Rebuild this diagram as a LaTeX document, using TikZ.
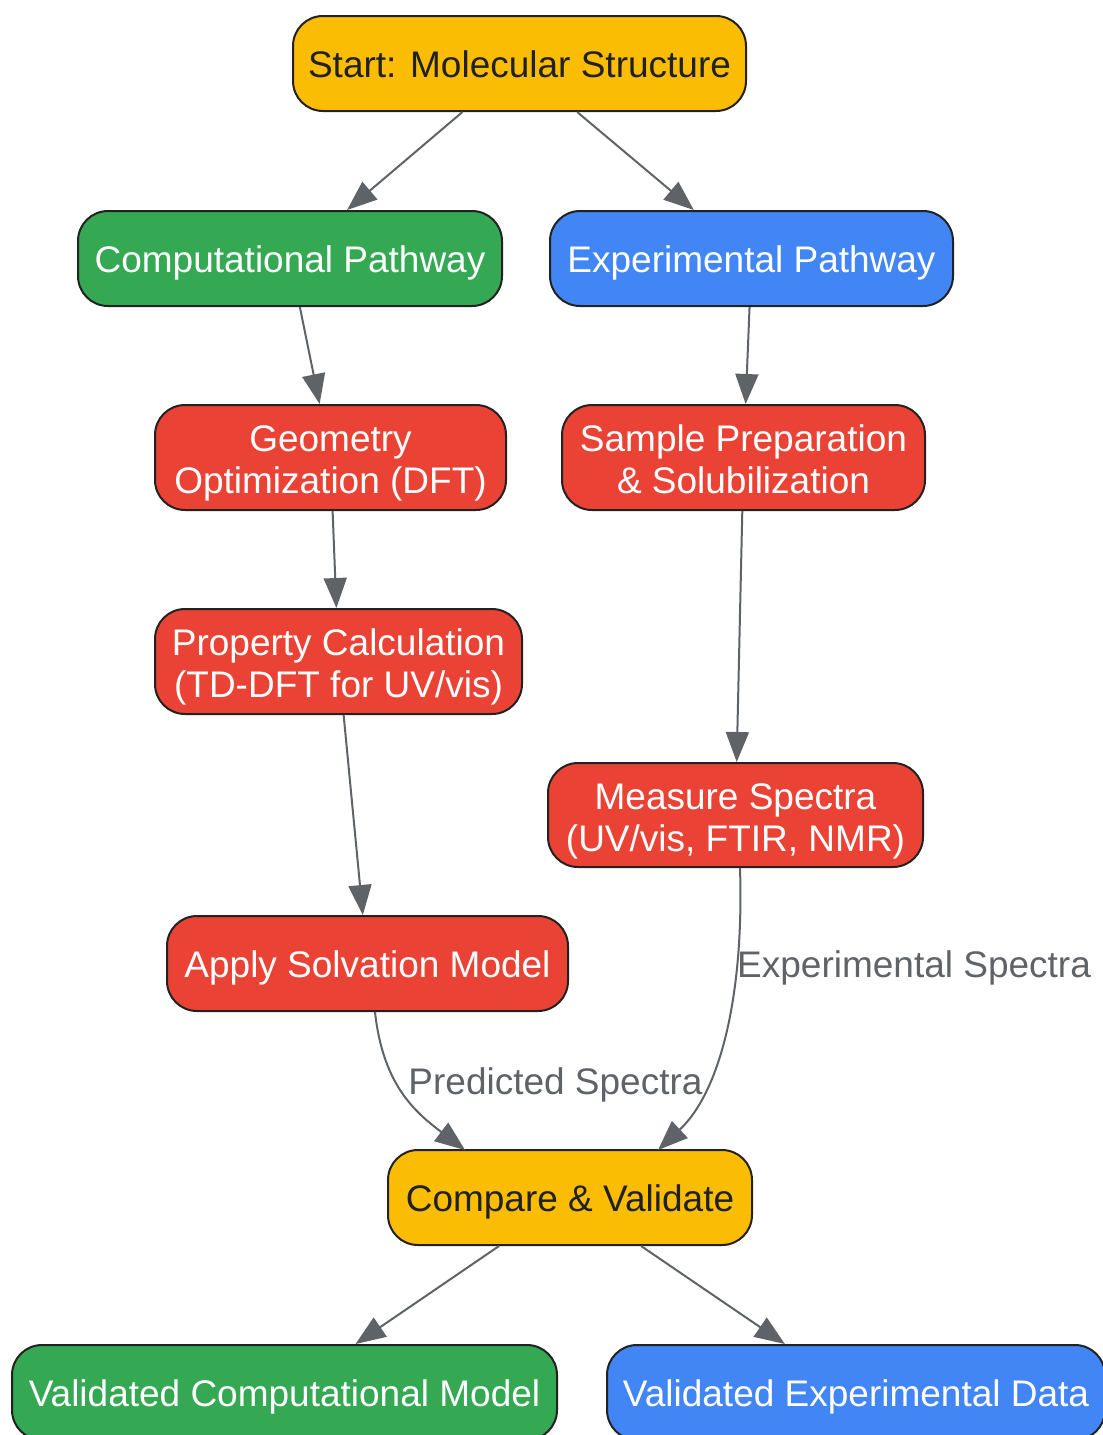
\documentclass[tikz,border=0pt]{standalone}
\usepackage{fontspec}
\setmainfont{Liberation Sans}
\usetikzlibrary{arrows.meta,positioning}
\definecolor{gyellow}{HTML}{FBBC04}
\definecolor{ggreen}{HTML}{34A853}
\definecolor{gblue}{HTML}{4285F4}
\definecolor{gred}{HTML}{EA4335}
\definecolor{edgegrey}{HTML}{5F6368}
\definecolor{darktext}{HTML}{202124}
\definecolor{bordercol}{HTML}{222222}
\tikzset{
  box/.style={draw=bordercol, line width=2pt, rounded corners=30pt, inner sep=0pt,
    align=center, font=\fontsize{37}{42}\selectfont,
    text height=34pt, text depth=6pt},
  twoline/.style={text height=77pt, text depth=5pt},
  ybox/.style={box, fill=gyellow, text=darktext},
  gbox/.style={box, fill=ggreen, text=white},
  bbox/.style={box, fill=gblue, text=white},
  rbox/.style={box, fill=gred, text=white},
  conn/.style={draw=edgegrey, line width=2pt, -{Triangle[length=30pt,width=23pt]}},
  elabel/.style={text=edgegrey, font=\fontsize{37}{42}\selectfont, inner sep=0pt,
    text height=36pt, text depth=8pt}
}
\begin{document}
\begin{tikzpicture}[x=1pt,y=-1pt]
\useasboundingbox (0,0) rectangle (1103,1435);
\node[ybox, minimum width=453pt, minimum height=95pt] (start) at (519.5,63.5) {Start: Molecular Structure};
\node[gbox, minimum width=424pt, minimum height=95pt] (comp) at (290,258.5) {Computational Pathway};
\node[bbox, minimum width=403pt, minimum height=95pt] (exp) at (751.5,258.5) {Experimental Pathway};
\node[rbox, twoline, minimum width=351pt, minimum height=105pt] (geom) at (330.5,457.5) {Geometry\\Optimization (DFT)};
\node[rbox, twoline, minimum width=363pt, minimum height=105pt] (sample) at (743.5,457.5) {Sample Preparation\\\& Solubilization};
\node[rbox, twoline, minimum width=367pt, minimum height=105pt] (prop) at (338.5,661.5) {Property Calculation\\(TD-DFT for UV/vis)};
\node[rbox, twoline, minimum width=375pt, minimum height=104pt] (measure) at (735.5,815) {Measure Spectra\\(UV/vis, FTIR, NMR)};
\node[rbox, minimum width=401pt, minimum height=95pt] (apply) at (367.5,963.5) {Apply Solvation Model};
\node[ybox, minimum width=364pt, minimum height=95pt] (compare) at (570,1197.5) {Compare \& Validate};
\node[gbox, minimum width=545pt, minimum height=95pt] (vcomp) at (284.5,1392.5) {Validated Computational Model};
\node[bbox, minimum width=498pt, minimum height=95pt] (vexp) at (856,1392.5) {Validated Experimental Data};

\draw[conn] (start) -- (comp);
\draw[conn] (start) -- (exp);
\draw[conn] (comp) -- (geom);
\draw[conn] (exp) -- (sample);
\draw[conn] (geom) -- (prop);
\draw[conn] (sample) -- (measure);
\draw[conn] (prop) -- (apply);
\draw[conn] ([xshift=4.5pt]measure.south) .. controls (744,990) and (722,1090) .. ([xshift=88pt,yshift=-1pt]compare.north);
\draw[conn] ([xshift=7.5pt]apply.south) .. controls (383,1085) and (415,1112) .. ([xshift=-105pt,yshift=-1pt]compare.north);
\draw[conn] (compare) -- (vcomp);
\draw[conn] (compare) -- (vexp);

\node[elabel, anchor=west] (lexp) at (737,963) {Experimental Spectra};
\node[elabel] (lpred) at (555.5,1080) {Predicted Spectra};
\end{tikzpicture}
\end{document}
